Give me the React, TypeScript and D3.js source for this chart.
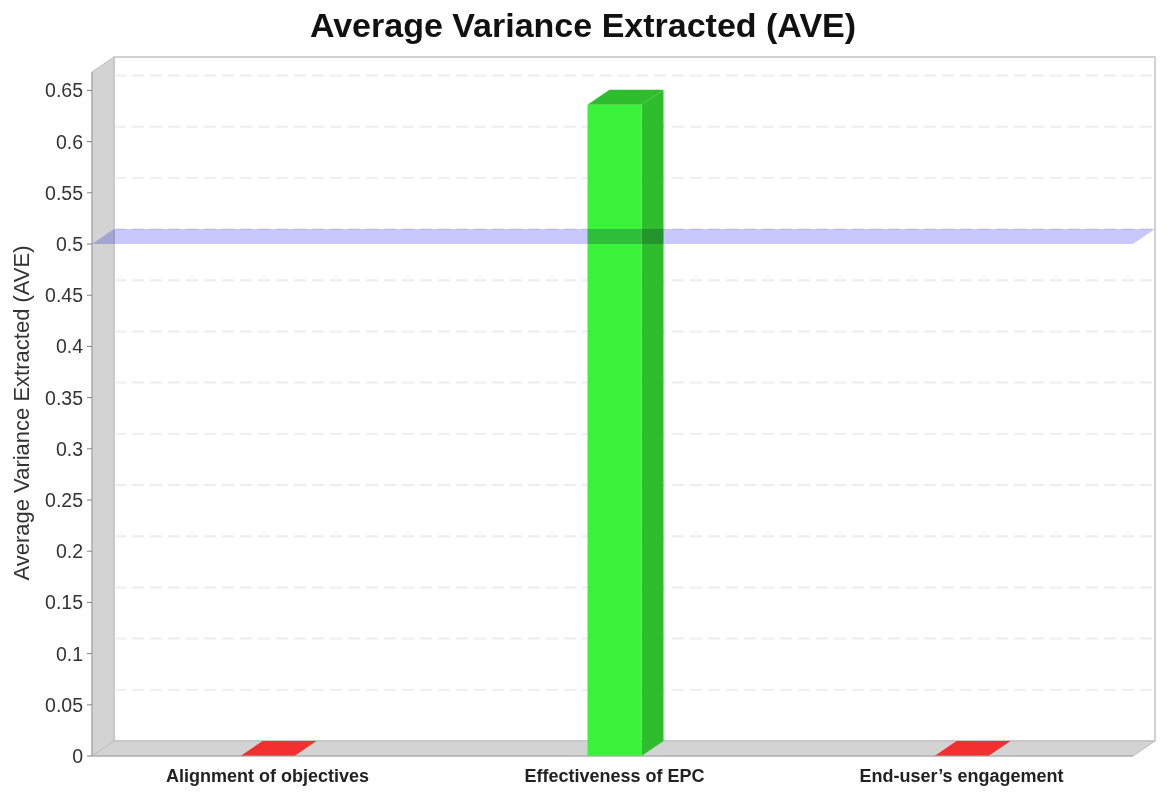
import React, { useEffect, useRef } from 'react';
import * as d3 from 'd3';

const categories = ['Alignment of objectives', 'Effectiveness of EPC', "End-user’s engagement"];
const aveValues = [0, 0.636, 0];
const barColors = ['#f23030', '#3af23a', '#f23030'];
const yTicks = [0, 0.05, 0.1, 0.15, 0.2, 0.25, 0.3, 0.35, 0.4, 0.45, 0.5, 0.55, 0.6, 0.65];
const thresholdValue = 0.5;

const App: React.FC = () => {
    const svgRef = useRef<SVGSVGElement>(null);

    useEffect(() => {
        if (!svgRef.current) return;
        const svg = d3.select(svgRef.current);
        svg.selectAll('*').remove();

        const width = 1167;
        const height = 792;
        const left = 92;
        const right = 1133;
        const bottom = 756;
        const top = 72;
        const dx = 22;
        const dy = 15;
        const barWidth = 54;
        const font = 'Arial, "Liberation Sans", sans-serif';

        svg.append('rect').attr('width', width).attr('height', height).attr('fill', 'white');

        const y = d3.scaleLinear().domain([0, 0.668]).range([bottom, top]);
        const x = d3.scalePoint<string>().domain(categories).range([left, right]).padding(0.5);

        // back panel
        svg.append('rect')
            .attr('x', left + dx)
            .attr('y', top - dy)
            .attr('width', right - left)
            .attr('height', bottom - top)
            .attr('fill', 'white')
            .attr('stroke', '#c4c4c4')
            .attr('stroke-width', 1.5);

        // gridlines on the back panel
        svg.append('g')
            .selectAll('line')
            .data(yTicks.slice(1))
            .join('line')
            .attr('x1', left + dx)
            .attr('x2', right + dx)
            .attr('y1', d => y(d) - dy)
            .attr('y2', d => y(d) - dy)
            .attr('stroke', '#ededed')
            .attr('stroke-width', 2)
            .attr('stroke-dasharray', '12 6');

        // left wall
        svg.append('polygon')
            .attr('points', [[left, bottom], [left, top], [left + dx, top - dy], [left + dx, bottom - dy]].map(p => p.join(',')).join(' '))
            .attr('fill', '#d3d3d3')
            .attr('stroke', '#bdbdbd')
            .attr('stroke-width', 1);

        // floor
        svg.append('polygon')
            .attr('points', [[left, bottom], [right, bottom], [right + dx, bottom - dy], [left + dx, bottom - dy]].map(p => p.join(',')).join(' '))
            .attr('fill', '#d3d3d3')
            .attr('stroke', '#bdbdbd')
            .attr('stroke-width', 1);

        // 3D bars
        const bars = svg.append('g');
        categories.forEach((cat, i) => {
            const cx = x(cat) as number + 2;
            const x0 = cx - barWidth / 2;
            const x1 = cx + barWidth / 2;
            const yv = y(aveValues[i]);
            const base = d3.color(barColors[i])!;
            const g = bars.append('g');
            // side
            g.append('polygon')
                .attr('points', [[x1, bottom], [x1, yv], [x1 + dx, yv - dy], [x1 + dx, bottom - dy]].map(p => p.join(',')).join(' '))
                .attr('fill', base.darker(0.7).toString());
            // top
            g.append('polygon')
                .attr('points', [[x0, yv], [x1, yv], [x1 + dx, yv - dy], [x0 + dx, yv - dy]].map(p => p.join(',')).join(' '))
                .attr('fill', aveValues[i] > 0 ? base.darker(0.7).toString() : base.toString());
            // front
            g.append('rect')
                .attr('x', x0)
                .attr('y', yv)
                .attr('width', barWidth)
                .attr('height', bottom - yv)
                .attr('fill', base.toString());
        });

        // threshold marker plane at 0.5
        const ym = y(thresholdValue);
        svg.append('polygon')
            .attr('points', [[left, ym], [right, ym], [right + dx, ym - dy], [left + dx, ym - dy]].map(p => p.join(',')).join(' '))
            .attr('fill', '#c8c8ff')
            .style('mix-blend-mode', 'multiply');

        // y axis ticks and labels
        const yAxis = svg.append('g');
        yAxis.append('line')
            .attr('x1', left).attr('x2', left)
            .attr('y1', top).attr('y2', bottom)
            .attr('stroke', '#a0a0a0');
        yAxis.selectAll('line.tick')
            .data(yTicks)
            .join('line')
            .attr('class', 'tick')
            .attr('x1', left - 5).attr('x2', left)
            .attr('y1', d => y(d)).attr('y2', d => y(d))
            .attr('stroke', '#808080');
        yAxis.selectAll('text')
            .data(yTicks)
            .join('text')
            .attr('x', left - 9)
            .attr('y', d => y(d))
            .attr('dy', '0.36em')
            .attr('text-anchor', 'end')
            .attr('font-family', font)
            .attr('font-size', 19.5)
            .attr('fill', '#333')
            .text(d => d3.format('~g')(d));

        // bottom axis line
        svg.append('line')
            .attr('x1', left).attr('x2', right)
            .attr('y1', bottom).attr('y2', bottom)
            .attr('stroke', '#a8a8a8');

        // category labels
        svg.append('g')
            .selectAll('text')
            .data(categories)
            .join('text')
            .attr('x', d => x(d) as number + 2)
            .attr('y', 782)
            .attr('text-anchor', 'middle')
            .attr('font-family', font)
            .attr('font-size', 18)
            .attr('font-weight', 'bold')
            .attr('fill', '#222')
            .text(d => d);

        // y axis title
        svg.append('text')
            .attr('transform', `translate(29, 413) rotate(-90)`)
            .attr('text-anchor', 'middle')
            .attr('font-family', font)
            .attr('font-size', 22)
            .attr('fill', '#333')
            .text('Average Variance Extracted (AVE)');

        // chart title
        svg.append('text')
            .attr('x', 583)
            .attr('y', 37)
            .attr('text-anchor', 'middle')
            .attr('font-family', font)
            .attr('font-size', 34)
            .attr('font-weight', 'bold')
            .attr('fill', '#111')
            .text('Average Variance Extracted (AVE)');
    }, []);

    return (
        <div style={{ position: 'absolute', left: 0, top: 0 }}>
            <svg ref={svgRef} width={1167} height={792} viewBox="0 0 1167 792" />
        </div>
    );
};

export default App;
